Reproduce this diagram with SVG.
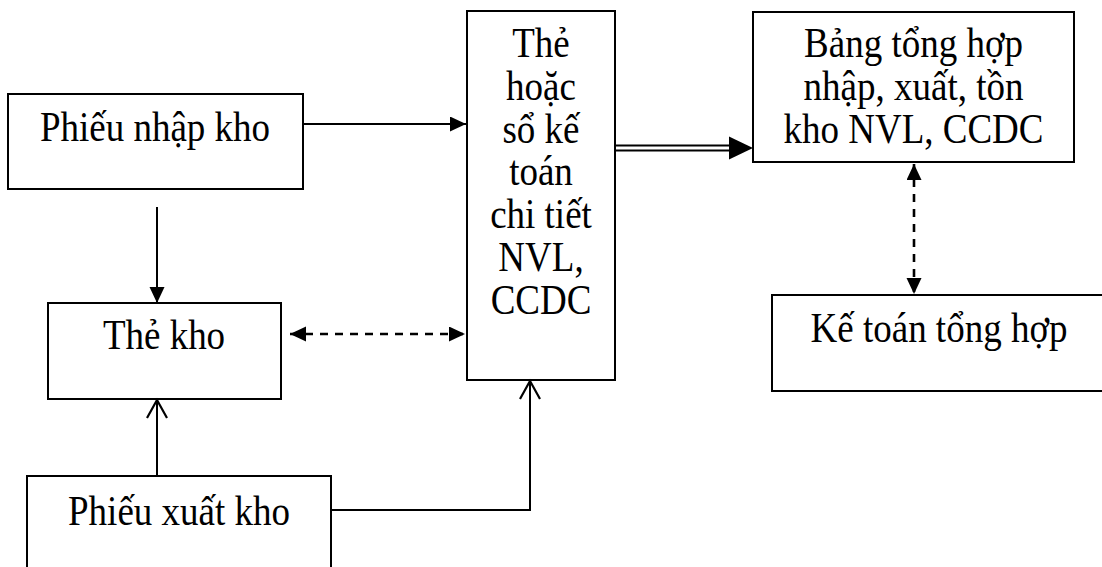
<svg xmlns="http://www.w3.org/2000/svg" width="1102" height="567" viewBox="0 0 1102 567">
<style>
.box{fill:#fff;stroke:#000;stroke-width:2}
.t{font-family:"Liberation Serif","Times New Roman",serif;font-size:37px;fill:#000;text-anchor:middle}
.ln{fill:none;stroke:#000;stroke-width:2}
.dash{fill:none;stroke:#000;stroke-width:2.6;stroke-dasharray:8,7}
</style>
<defs>
<marker id="fa" markerUnits="userSpaceOnUse" markerWidth="17" markerHeight="16" refX="16" refY="7.5" orient="auto-start-reverse" viewBox="0 0 17 16">
<path d="M0,0 L16,7.5 L0,15 z" fill="#000"/>
</marker>
<marker id="oa" markerUnits="userSpaceOnUse" markerWidth="22" markerHeight="24" refX="19" refY="11" orient="auto" viewBox="0 0 22 24">
<path d="M1,1 L19,11 L1,21" fill="none" stroke="#000" stroke-width="2.2"/>
</marker>
</defs>
<g id="n-phieu-nhap"><rect class="box" x="8" y="94" width="295" height="95"/><text class="t" transform="translate(155,141) scale(1,1.13)">Phiếu nhập kho</text></g>
<g id="n-so-chi-tiet"><rect class="box" x="467" y="11" width="148" height="369"/>
<text class="t" transform="translate(541,57) scale(1,1.13)">Thẻ</text>
<text class="t" transform="translate(541,100) scale(1,1.13)">hoặc</text>
<text class="t" transform="translate(541,142.6) scale(1,1.13)">sổ kế</text>
<text class="t" transform="translate(541,185.4) scale(1,1.13)">toán</text>
<text class="t" transform="translate(541,228) scale(1,1.13)">chi tiết</text>
<text class="t" transform="translate(541,271) scale(1,1.13)">NVL,</text>
<text class="t" transform="translate(541,313.6) scale(1,1.13)">CCDC</text></g>
<g id="n-bang-tong-hop"><rect class="box" x="753" y="12" width="321" height="150"/>
<text class="t" transform="translate(913.5,57) scale(1,1.13)">Bảng tổng hợp</text>
<text class="t" transform="translate(913.5,100) scale(1,1.13)">nhập, xuất, tồn</text>
<text class="t" transform="translate(913.5,142.6) scale(1,1.13)">kho NVL, CCDC</text></g>
<g id="n-the-kho"><rect class="box" x="48" y="303" width="233" height="96"/><text class="t" transform="translate(164,349) scale(1,1.13)">Thẻ kho</text></g>
<g id="n-ke-toan"><rect class="box" x="772" y="295" width="340" height="96"/><text class="t" transform="translate(939,342) scale(1,1.13)">Kế toán tổng hợp</text></g>
<g id="n-phieu-xuat"><rect class="box" x="27" y="476" width="304" height="110"/><text class="t" transform="translate(179,525) scale(1,1.13)">Phiếu xuất kho</text></g>
<g id="connectors">
<line class="ln" x1="303" y1="124" x2="466" y2="124" marker-end="url(#fa)"/>
<line class="ln" x1="157" y1="207" x2="157" y2="303" marker-end="url(#fa)"/>
<line class="dash" x1="290" y1="334" x2="465" y2="334" marker-start="url(#fa)" marker-end="url(#fa)"/>
<line class="dash" x1="914" y1="164" x2="914" y2="294" marker-start="url(#fa)" marker-end="url(#fa)"/>
<line class="ln" x1="615" y1="145.5" x2="731" y2="145.5"/>
<line class="ln" x1="615" y1="150.5" x2="731" y2="150.5"/>
<path d="M729,136.5 L753,148 L729,159.5 z" fill="#000"/>
<line class="ln" x1="157" y1="476" x2="157" y2="400" marker-end="url(#oa)"/>
<polyline class="ln" points="331,510 530,510 530,381" stroke-width="2.5" marker-end="url(#oa)"/>
</g>
</svg>
